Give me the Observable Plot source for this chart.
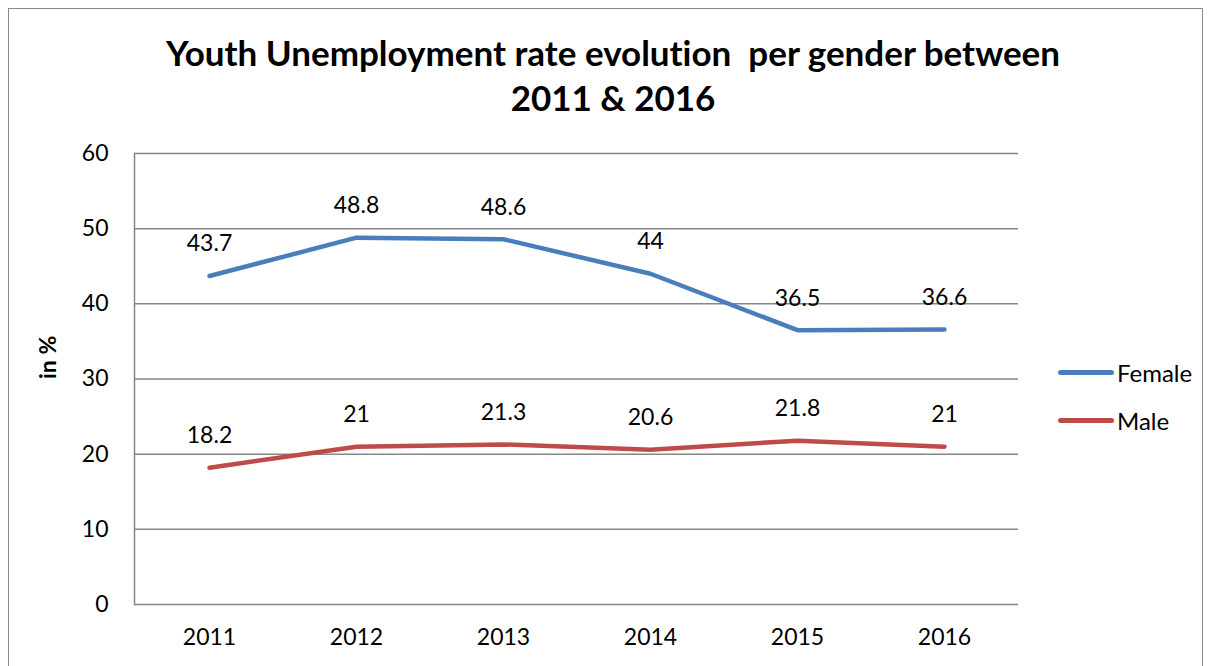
<!DOCTYPE html>
<html>
<head>
<meta charset="utf-8">
<script src="https://cdn.jsdelivr.net/npm/d3@7"></script>
<script src="https://cdn.jsdelivr.net/npm/@observablehq/plot@0.6"></script>
<style>
  html, body { margin: 0; padding: 0; background: #fff; }
  #wrap { position: relative; width: 1216px; height: 666px; overflow: hidden; font-family: Lato, "Open Sans", sans-serif; font-variant-ligatures: none; }
  #frame { position: absolute; left: 8px; top: 8px; width: 1195px; height: 700px; border: 1.5px solid #888; box-sizing: border-box; }
  #title { position: absolute; left: 0; width: 1226px; top: 30px; text-align: center; font-weight: bold; font-size: 35px; line-height: 45px; color: #000; }
  #chart { position: absolute; left: 0; top: 0; }
  .leg { position: absolute; left: 1058px; font-size: 24px; color: #000; display: flex; align-items: center; }
  .leg span.sw { display: inline-block; width: 56px; height: 5px; border-radius: 3px; margin-right: 3px; }
</style>
</head>
<body>
<div id="wrap">
  <div id="frame"></div>
  <div id="chart"></div>
  <div id="title">Youth Unemployment rate evolution&nbsp; per gender between<br>2011 &amp; 2016</div>
  <div id="legend"></div>
</div>
<script>
const years = ["2011", "2012", "2013", "2014", "2015", "2016"];
const female = [43.7, 48.8, 48.6, 44, 36.5, 36.6];
const male = [18.2, 21, 21.3, 20.6, 21.8, 21];
const seriesNames = ["Female", "Male"];
const seriesColors = ["#4A7EBB", "#BE4B48"];
const yTicks = [0, 10, 20, 30, 40, 50, 60];

const rows = [];
years.forEach((y, i) => {
  rows.push({year: y, value: female[i], series: "Female"});
  rows.push({year: y, value: male[i], series: "Male"});
});

const plot = Plot.plot({
  width: 1216,
  height: 666,
  marginLeft: 134,
  marginRight: 198,
  marginTop: 153,
  marginBottom: 62,
  style: {fontFamily: "Lato, 'Open Sans', sans-serif", fontSize: "23px", background: "transparent", overflow: "visible"},
  x: {type: "point", domain: years, padding: 0.5, label: null},
  y: {domain: [0, 60], ticks: yTicks, label: null},
  color: {domain: seriesNames, range: seriesColors},
  marks: [
    Plot.gridY(yTicks, {stroke: "#868686", strokeOpacity: 1, strokeWidth: 1.5}),
    Plot.frame({anchor: "left", stroke: "#868686", strokeWidth: 1.5}),
    Plot.axisX({tickSize: 0, tickPadding: 24, fontSize: 23, fill: "#000"}),
    Plot.axisY({ticks: yTicks, tickSize: 0, tickPadding: 26, fontSize: 23, fill: "#000"}),
    Plot.line(rows, {x: "year", y: "value", z: "series", stroke: "series", strokeWidth: 4.5, strokeLinecap: "round", strokeLinejoin: "round"}),
    Plot.text(rows, {x: "year", y: "value", text: d => String(d.value), dy: -32, fontSize: 23, fill: "#000"}),
    Plot.text(["in %"], {frameAnchor: "left", dx: -86, rotate: -90, fontWeight: "bold", fontSize: 23, fill: "#000", text: d => d})
  ]
});
document.getElementById("chart").appendChild(plot);

const legend = document.getElementById("legend");
const legendTops = [358, 406];
seriesNames.forEach((name, i) => {
  const d = document.createElement("div");
  d.className = "leg";
  d.style.top = legendTops[i] + "px";
  d.innerHTML = `<span class="sw" style="background:${seriesColors[i]}"></span>${name}`;
  legend.appendChild(d);
});
</script>
</body>
</html>
